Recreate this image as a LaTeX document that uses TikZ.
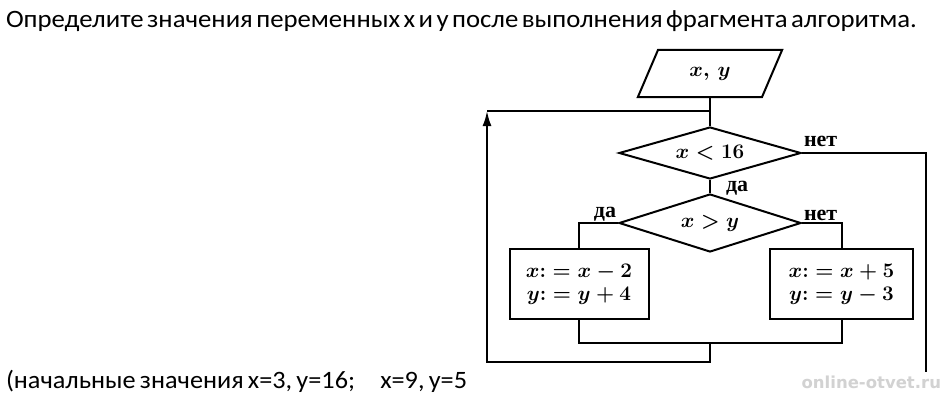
\documentclass[tikz,border=0pt]{standalone}
\usepackage{fontspec}
\usetikzlibrary{shapes.geometric,arrows.meta,calc}
\newfontfamily\carl{Carlito}
\newfontfamily\lbs{Liberation Serif}
\newfontfamily\wmfont{DejaVu Sans}
\begin{document}
\begin{tikzpicture}[x=1pt,y=1pt,
  line width=2pt,
  mathtxt/.style={font=\fontsize{20}{24}\selectfont\boldmath},
  lbl/.style={font=\lbs\bfseries\fontsize{22}{26}\selectfont, inner sep=1pt},
  dec/.style={draw, diamond, inner sep=0pt, minimum width=182pt},
  actbox/.style={draw, rectangle, inner sep=0pt, mathtxt, align=center, minimum height=70pt},
  io/.style={draw, trapezium, trapezium left angle=59, trapezium right angle=121, trapezium stretches=true, inner sep=0pt, mathtxt, minimum width=145pt, minimum height=47pt}
]
\useasboundingbox[fill=white] (0,0) rectangle (948,400);

% texts
\node[anchor=base west, inner sep=0pt, font=\carl\fontsize{25}{30}\selectfont] (title) at (5,372)
  {\scalebox{1.07}[1]{\spaceskip=3.2pt plus 1pt\relax Определите значения переменных x и y после выполнения фрагмента алгоритма.}};
\node[anchor=base west, inner sep=0pt, font=\carl\fontsize{25}{30}\selectfont] (note) at (5,12)
  {\scalebox{1.05}[1]{\spaceskip=4pt plus 1pt\relax (начальные значения x=3, y=16;\hspace{24pt}x=9, y=5}};
\node[anchor=base east, inner sep=0pt, text=gray!35, font=\wmfont\bfseries\fontsize{16.5}{20}\selectfont] (wm) at (942,12) {online-otvet.ru};

% flowchart nodes
\node[io] (inp) at (710,326.5) {$x,\,y$};
\node[dec, minimum height=52pt, label={[mathtxt]center:$x<16$}] (d1) at (710,247) {};
\node[dec, minimum height=58pt, label={[mathtxt]center:$x>y$}] (d2) at (710,177) {};
\node[actbox, minimum width=139pt] (bl) at (579,116) {$x{:} = x - 2$\\[-1pt] $y{:} = y + 4$};
\node[actbox, minimum width=143pt] (br) at (841.5,116) {$x{:} = x + 5$\\[-1pt] $y{:} = y - 3$};

% coordinates
\coordinate (jtop) at (710,289);
\coordinate (cnr) at (487,289);
\coordinate (jbot) at (710,57);
\coordinate (lbot) at (487,38);
\coordinate (exitend) at (926,28);

% connectors
\draw (inp.south -| jtop) -- (jtop) -- (d1.north);
\draw (d1.south) -- (d2.north);
\draw (d1.east) -| (exitend);
\draw (d2.west) -| (bl.north);
\draw (d2.east) -| (br.north);
\draw (bl.south) |- (jbot) -| (br.south);
\draw[-{Latex[length=15pt,width=9pt]}] (jbot) |- (lbot) -- (cnr);
\draw (cnr) -- (jtop);

% labels
\node[lbl, anchor=south west] at ([yshift=4pt]d1.east) {нет};
\node[lbl, anchor=west] at ([xshift=14pt,yshift=-2pt]$(d1.south)!0.5!(d2.north)$) {да};
\node[lbl, anchor=south east] at (d2.west) {да};
\node[lbl, anchor=south west] at (d2.east) {нет};
\end{tikzpicture}
\end{document}
